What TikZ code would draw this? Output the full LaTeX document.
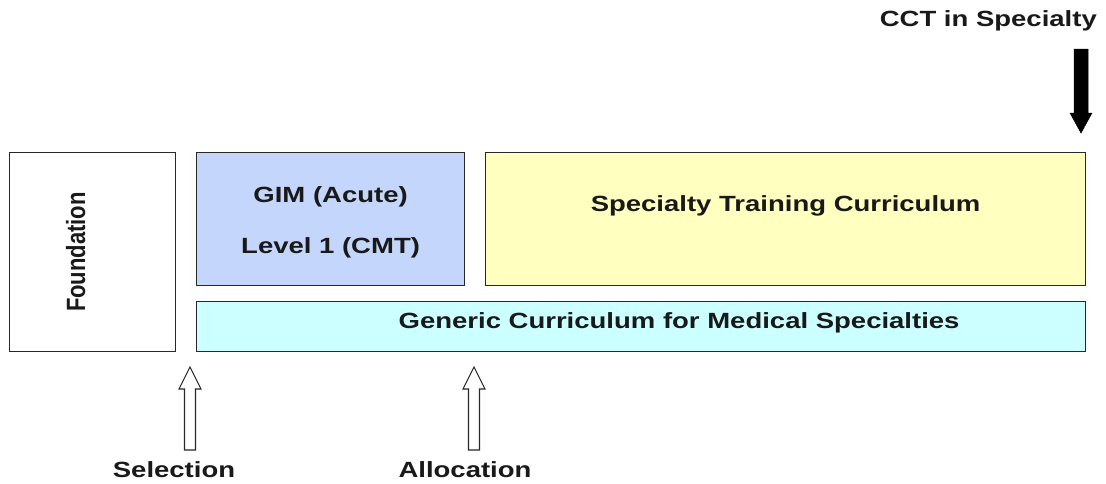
\documentclass[tikz,border=0pt]{standalone}
\usepackage{fontspec}
\setmainfont{Liberation Sans}[FakeStretch=1.25]
\newfontfamily\plainfont{Liberation Sans}
\definecolor{gimblue}{RGB}{197,214,252}
\definecolor{specyellow}{RGB}{255,255,192}
\definecolor{gencyan}{RGB}{204,255,255}
\definecolor{edgegray}{RGB}{40,40,40}
\tikzset{
  box/.style={draw=edgegray, line width=1.2pt, anchor=north west, inner sep=0pt},
  lbl/.style={font=\fontsize{22}{26}\selectfont\bfseries, text=black!90, inner sep=0pt},
  hollow/.style={draw=edgegray, fill=white, line width=1.1pt, line join=miter},
  solidarrow/.style={fill=black, draw=black, line width=0.5pt}
}
\begin{document}
\begin{tikzpicture}[x=1pt,y=-1pt]
\useasboundingbox (0,0) rectangle (1106,483);
% boxes
\node[box, fill=white, minimum width=166pt, minimum height=199pt] (found) at (9,152) {};
\node[box, fill=gimblue, minimum width=268pt, minimum height=133pt] (gim) at (196,152) {};
\node[box, fill=specyellow, minimum width=600pt, minimum height=133pt] (spec) at (485,152) {};
\node[box, fill=gencyan, minimum width=889pt, minimum height=50pt] (gen) at (196,301) {};
% texts
\node[lbl, rotate=90] (foundtxt) at ([xshift=-17pt]found.center) {\plainfont\bfseries\scalebox{1}[1.2]{Foundation}};
\node[lbl] (gim1) at ([yshift=22pt]gim.center) {GIM (Acute)};
\node[lbl] (gim2) at ([yshift=-29pt]gim.center) {Level 1 (CMT)};
\node[lbl] (spectxt) at ([yshift=13pt]spec.center) {Specialty Training Curriculum};
\node[lbl] (gentxt) at ([xshift=38pt,yshift=4pt]gen.center) {Generic Curriculum for Medical Specialties};
\node[lbl] (sel) at (174,470) {Selection};
\node[lbl] (alloc) at (465,470) {Allocation};
\node[lbl, anchor=east] (cct) at (1097,21) {CCT in Specialty};
% hollow arrows (tip at top)
\coordinate (seltip) at (190,367);
\coordinate (alloctip) at (474,367);
\foreach \t in {seltip,alloctip}{
  \draw[hollow] ([xshift=-5.5pt,yshift=-83pt]\t) -- ([xshift=-5.5pt,yshift=-22pt]\t)
     -- ([xshift=-11pt,yshift=-22pt]\t) -- (\t) -- ([xshift=11pt,yshift=-22pt]\t)
     -- ([xshift=5.5pt,yshift=-22pt]\t) -- ([xshift=5.5pt,yshift=-83pt]\t) -- cycle;
}
% solid arrow (pointing down)
\coordinate (cctarrowtop) at (1081,49);
\coordinate (cctarrowtip) at (1081,133);
\fill[solidarrow] ([xshift=-7pt]cctarrowtop) -- ([xshift=-7pt,yshift=20pt]cctarrowtip)
   -- ([xshift=-11pt,yshift=20pt]cctarrowtip) -- (cctarrowtip)
   -- ([xshift=11pt,yshift=20pt]cctarrowtip) -- ([xshift=7pt,yshift=20pt]cctarrowtip)
   -- ([xshift=7pt]cctarrowtop) -- cycle;
\end{tikzpicture}
\end{document}
